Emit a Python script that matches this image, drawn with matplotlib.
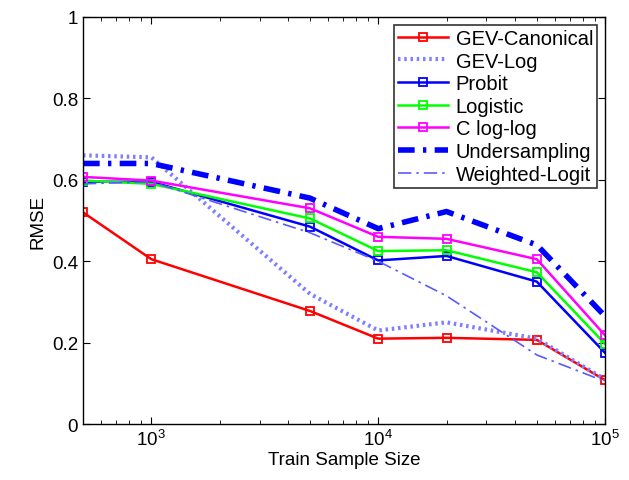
import numpy as np
import matplotlib
matplotlib.use('Agg')
import matplotlib.pyplot as plt

plt.rcParams['font.family'] = ['Liberation Sans', 'DejaVu Sans']

# train sample sizes
sizes = [500, 1000, 5000, 10000, 20000, 50000, 100000]

gev_canonical = [0.52, 0.405, 0.278, 0.210, 0.212, 0.207, 0.108]
gev_log = [0.66, 0.655, 0.32, 0.23, 0.25, 0.21, 0.11]
probit = [0.595, 0.595, 0.485, 0.402, 0.413, 0.350, 0.175]
logistic = [0.598, 0.590, 0.505, 0.425, 0.427, 0.373, 0.197]
cloglog = [0.607, 0.598, 0.530, 0.460, 0.455, 0.405, 0.218]
undersampling = [0.640, 0.640, 0.555, 0.480, 0.522, 0.440, 0.265]
weighted_logit = [0.590, 0.595, 0.470, 0.400, 0.315, 0.170, 0.105]

fig = plt.figure(figsize=(6.29, 4.81), dpi=100)
ax = fig.add_axes([0.132, 0.116, 0.830, 0.847])

ax.plot(sizes, gev_canonical, color='#ff0000', lw=1.8, marker='s', ms=6, mfc='none', mew=1.3, label='GEV-Canonical')
ax.plot(sizes, gev_log, color='#8080ff', lw=3, ls=(0, (0.6, 0.9)), label='GEV-Log')
ax.plot(sizes, probit, color='#0000ff', lw=1.8, marker='s', ms=6, mfc='none', mew=1.3, label='Probit')
ax.plot(sizes, logistic, color='#00ff00', lw=1.8, marker='s', ms=6, mfc='none', mew=1.3, label='Logistic')
ax.plot(sizes, cloglog, color='#ff00ff', lw=1.8, marker='s', ms=6, mfc='none', mew=1.3, label='C log-log')
ax.plot(sizes, undersampling, color='#0000ff', lw=4, ls=(0, (3, 1.5, 0.6, 1.5)), label='Undersampling')
ax.plot(sizes, weighted_logit, color='#5a5aff', lw=1.2, ls=(0, (8, 3, 1.5, 3)), label='Weighted-Logit')

ax.set_xscale('log')
ax.set_xlim(500, 100000)
ax.set_ylim(0, 1)
ax.set_yticks([0, 0.2, 0.4, 0.6, 0.8, 1])
ax.set_yticklabels(['0', '0.2', '0.4', '0.6', '0.8', '1'])
ax.tick_params(which='both', direction='in', top=True, right=True, labelsize=13.5)
ax.tick_params(which='major', length=5)
ax.tick_params(which='minor', length=3)
for s in ax.spines.values():
    s.set_linewidth(1.0)

ax.set_xlabel('Train Sample Size', fontsize=13.5, labelpad=1)
ax.set_ylabel('RMSE', fontsize=13.5)

leg = ax.legend(loc='upper right', fontsize=14.5, frameon=True, fancybox=False,
                edgecolor='black', handlelength=2.5, borderpad=0.2,
                labelspacing=0.18, handletextpad=0.35, borderaxespad=0.4)
leg.get_frame().set_linewidth(1.2)

fig.savefig('out.png', dpi=100)
